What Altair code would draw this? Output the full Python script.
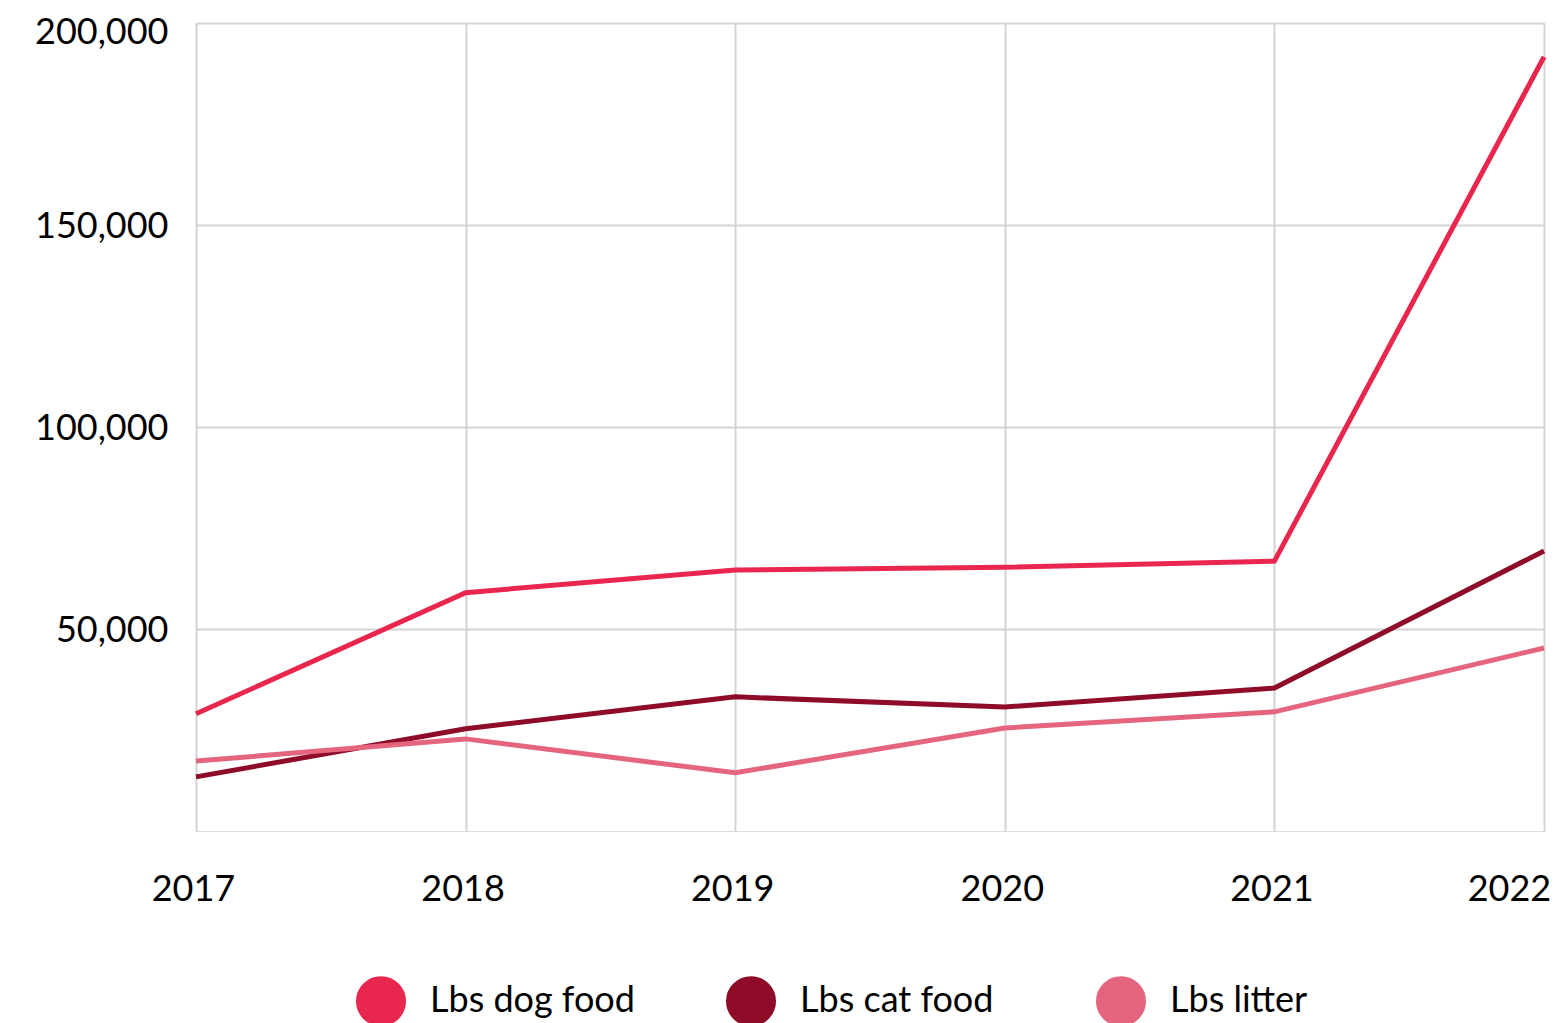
import altair as alt
import pandas as pd

years = [2017, 2018, 2019, 2020, 2021, 2022]
dog_food = [29000, 59000, 64600, 65300, 66800, 191600]
cat_food = [13400, 25300, 33200, 30700, 35400, 69300]
litter = [17300, 22800, 14400, 25500, 29500, 45300]
series_names = ["Lbs dog food", "Lbs cat food", "Lbs litter"]
series_colors = ["#E8264E", "#8E0C27", "#E5657E"]
y_ticks = [50000, 100000, 150000, 200000]

rows = []
for name, vals in zip(series_names, [dog_food, cat_food, litter]):
    for yr, v in zip(years, vals):
        rows.append({"year": yr, "series": name, "value": v})
df = pd.DataFrame(rows)

FONT = "Lato"
GRID = "#d3d3d3"

chart = alt.Chart(df).mark_line(strokeWidth=5).encode(
    x=alt.X(
        "year:Q",
        scale=alt.Scale(domain=[2017, 2022], nice=False, zero=False),
        axis=alt.Axis(
            values=years, format="d", title=None, grid=True, domain=False,
            ticks=False, tickSize=0, labelPadding=41, labelFont=FONT,
            labelFontSize=36, labelColor="#000", gridColor=GRID, gridWidth=2,
            labelFlush=False,
            labelOffset={"expr": "datum.value == 2022 ? -35 : -3"},
        ),
    ),
    y=alt.Y(
        "value:Q",
        scale=alt.Scale(domain=[0, 200000], nice=False),
        axis=alt.Axis(
            values=y_ticks, format=",d", title=None, grid=True, domain=False,
            ticks=False, tickSize=0, labelPadding=28, labelFont=FONT,
            labelFontSize=36, labelColor="#000", gridColor=GRID, gridWidth=2,
            labelFlush=False,
            labelOffset={"expr": "datum.value == 200000 ? 9 : 1"},
        ),
    ),
    color=alt.Color(
        "series:N",
        scale=alt.Scale(domain=series_names, range=series_colors),
        sort=series_names,
        legend=alt.Legend(
            title=None, orient="none", legendX=160, legendY=953,
            direction="horizontal", columns=3, gridAlign="all",
            columnPadding=53, symbolType="circle", symbolSize=625,
            symbolStrokeWidth=25, labelFont=FONT, labelFontSize=36,
            labelColor="#000", labelOffset=24, labelLimit=400, padding=0,
        ),
    ),
).properties(
    width=1348,
    height=808,
    autosize=alt.AutoSizeParams(type="none"),
    padding={"left": 188, "top": 15, "right": 8, "bottom": 200},
).configure_view(
    stroke=GRID, strokeWidth=3
).configure(background="white")

chart.save("out.html", embed_options={"renderer": "svg", "actions": False})
